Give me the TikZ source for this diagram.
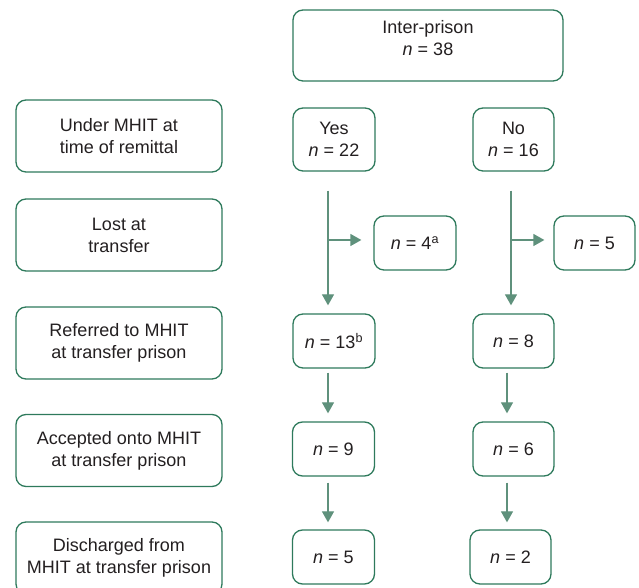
\documentclass[tikz,border=0pt]{standalone}
\usepackage{fontspec}
\setmainfont{Liberation Sans}
\usetikzlibrary{arrows.meta}
\definecolor{boxgreen}{HTML}{2E7A5C}
\definecolor{arrgreen}{HTML}{5F917C}
\definecolor{txt}{HTML}{231F20}
\tikzset{
  box/.style={draw=boxgreen, line width=1.3pt, rounded corners=10pt, inner sep=0pt,
    align=center, text=txt, font=\fontsize{18}{22}\selectfont},
  leftbox/.style={box, minimum width=206pt, minimum height=72pt},
  smallbox/.style={box, minimum width=82pt, minimum height=54pt},
  arr/.style={draw=arrgreen, line width=1.3pt, -{Triangle[width=12pt,length=11pt]}}
}
\newcommand{\nn}{\textit{n} = }
\begin{document}
\begin{tikzpicture}[x=1pt,y=1pt]
\useasboundingbox (0,0) rectangle (639,588);
\clip (0,0) rectangle (639,588);
% top
\node[box, minimum width=270pt, minimum height=71pt,
  label={[yshift=7pt,align=center,text=txt,font=\fontsize{18}{22}\selectfont]center:Inter-prison\\\nn 38}]
  (top) at (428,542.5) {};
% left column
\node[leftbox] (under) at (119,452) {Under MHIT at\\time of remittal};
\node[leftbox] (lost) at (119,353) {Lost at\\transfer};
\node[leftbox] (referred) at (119,245) {Referred to MHIT\\at transfer prison};
\node[leftbox] (accepted) at (119,137.5) {Accepted onto MHIT\\at transfer prison};
\node[leftbox] (discharged) at (119,30) {Discharged from\\MHIT at transfer prison};
% yes column
\node[smallbox, minimum height=63pt] (yes) at (334,448.5) {Yes\\\nn 22};
\node[smallbox] (n4) at (415,345) {\nn 4\textsuperscript{a}};
\node[smallbox] (n13) at (334,247) {\nn 13\textsuperscript{b}};
\node[smallbox] (n9) at (333.5,139) {\nn 9};
\node[smallbox] (n5b) at (333.5,31) {\nn 5};
% no column
\node[smallbox, minimum width=81pt, minimum height=63pt] (no) at (513.5,448.5) {No\\\nn 16};
\node[smallbox, minimum width=81pt] (n5) at (594.5,345) {\nn 5};
\node[smallbox, minimum width=81pt] (n8) at (513.5,247) {\nn 8};
\node[smallbox, minimum width=81pt] (n6) at (513.5,139) {\nn 6};
\node[smallbox, minimum width=81pt] (n2) at (510.5,31) {\nn 2};
% column coordinates
\coordinate (yx) at (328,0);
\coordinate (nx) at (511,0);
\coordinate (nx2) at (507,0);
\coordinate (yb) at (328,348);
\coordinate (nb) at (511,348);
% connectors
\draw[arr, shorten <=19pt, shorten >=8pt] (yx |- yes.south) -- (yx |- n13.north);
\draw[arr, shorten >=12pt] (yb) -- (yb -| n4.west);
\draw[arr, shorten <=19pt, shorten >=8pt] (nx |- no.south) -- (nx |- n8.north);
\draw[arr, shorten >=9pt] (nb) -- (nb -| n5.west);
\draw[arr, shorten <=4pt, shorten >=8pt] (yx |- n13.south) -- (yx |- n9.north);
\draw[arr, shorten <=6pt, shorten >=7pt] (yx |- n9.south) -- (yx |- n5b.north);
\draw[arr, shorten <=4pt, shorten >=8pt] (nx2 |- n8.south) -- (nx2 |- n6.north);
\draw[arr, shorten <=6pt, shorten >=7pt] (nx2 |- n6.south) -- (nx2 |- n2.north);
\end{tikzpicture}
\end{document}
